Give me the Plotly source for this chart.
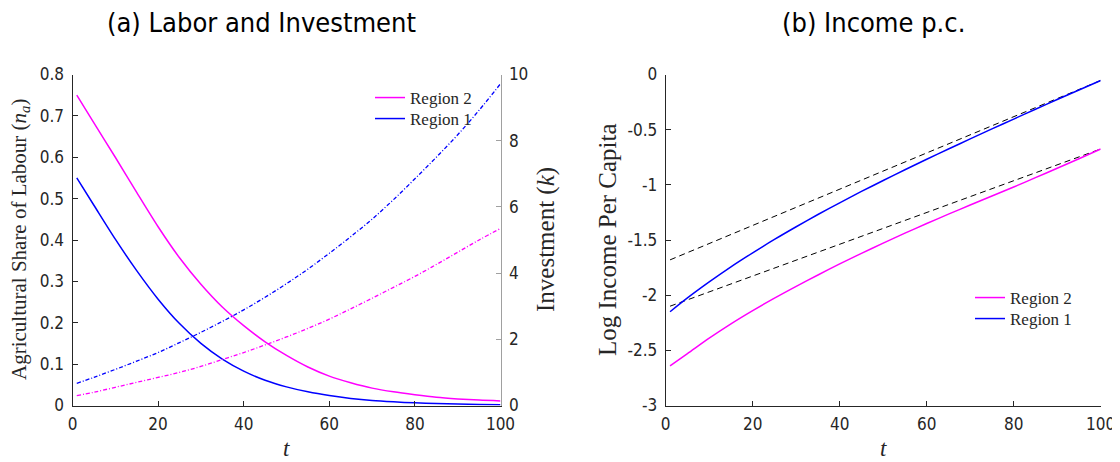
import plotly.graph_objects as go

W, H = 1120, 462
OFF = 8  # page body margin of the html page

# ---------------- data ----------------
t = [1, 5, 10, 15, 20, 25, 30, 35, 40, 45, 50, 55, 60, 65, 70, 75, 80, 85, 90, 95, 100]

# Panel (a): agricultural share of labour n_a
labour_r2 = [0.750, 0.683, 0.600, 0.515, 0.432, 0.357, 0.293, 0.238, 0.193, 0.154, 0.121,
             0.093, 0.071, 0.055, 0.042, 0.033, 0.026, 0.020, 0.016, 0.013, 0.011]
labour_r1 = [0.550, 0.484, 0.402, 0.326, 0.257, 0.198, 0.150, 0.112, 0.083, 0.061, 0.045,
             0.033, 0.024, 0.017, 0.012, 0.0088, 0.0064, 0.0047, 0.0035, 0.0026, 0.002]
# Panel (a): investment k
invest_r1 = [0.67, 0.85, 1.09, 1.34, 1.60, 1.90, 2.21, 2.54, 2.89, 3.27, 3.68,
             4.12, 4.60, 5.10, 5.63, 6.22, 6.85, 7.50, 8.18, 8.92, 9.72]
invest_r2 = [0.30, 0.40, 0.55, 0.70, 0.85, 1.00, 1.18, 1.39, 1.60, 1.83, 2.07,
             2.33, 2.61, 2.92, 3.24, 3.57, 3.90, 4.26, 4.63, 5.00, 5.35]

# Panel (b): log income per capita
income_r1 = [-2.150, -2.025, -1.880, -1.743, -1.616, -1.495, -1.380, -1.269, -1.163, -1.060, -0.961,
             -0.863, -0.768, -0.675, -0.584, -0.493, -0.404, -0.315, -0.227, -0.140, -0.054]
income_r2 = [-2.640, -2.530, -2.390, -2.260, -2.140, -2.027, -1.920, -1.817, -1.717, -1.621, -1.528,
             -1.438, -1.351, -1.266, -1.183, -1.101, -1.020, -0.935, -0.850, -0.764, -0.675]
trend_t = [1, 100]
trend_r1 = [-1.68, -0.054]
trend_r2 = [-2.10, -0.675]

xticks = [0, 20, 40, 60, 80, 100]
yticks_a = [0, 0.1, 0.2, 0.3, 0.4, 0.5, 0.6, 0.7, 0.8]
yticks_a2 = [0, 2, 4, 6, 8, 10]
yticks_b = [-3, -2.5, -2, -1.5, -1, -0.5, 0]
yticklabels_b = ["-3", "-2.5", "-2", "-1.5", "-1", "-0.5", "0"]

# ---------------- style ----------------
MAG = "#ff00ff"
BLU = "#0000ff"
AX = "#262626"
SERIF = "Liberation Serif"
SANS = "DejaVu Sans Condensed, DejaVu Sans"


def px_x(p):
    return (p - OFF) / W


def px_y(p):
    return 1 - (p - OFF) / H


fig = go.Figure()

# Panel (a)
fig.add_trace(go.Scatter(x=t, y=labour_r2, mode="lines", name="Region 2",
                         line=dict(color=MAG, width=1.5, shape="spline", smoothing=0.8),
                         xaxis="x", yaxis="y", legend="legend"))
fig.add_trace(go.Scatter(x=t, y=labour_r1, mode="lines", name="Region 1",
                         line=dict(color=BLU, width=1.5, shape="spline", smoothing=0.8),
                         xaxis="x", yaxis="y", legend="legend3"))
fig.add_trace(go.Scatter(x=t, y=invest_r1, mode="lines", showlegend=False,
                         line=dict(color=BLU, width=1.3, dash="4px,2px,1px,2px", shape="spline"),
                         xaxis="x", yaxis="y2"))
fig.add_trace(go.Scatter(x=t, y=invest_r2, mode="lines", showlegend=False,
                         line=dict(color=MAG, width=1.3, dash="4px,2px,1px,2px", shape="spline"),
                         xaxis="x", yaxis="y2"))

# Panel (b)
fig.add_trace(go.Scatter(x=trend_t, y=trend_r1, mode="lines", showlegend=False,
                         line=dict(color="black", width=1, dash="6px,4px"),
                         xaxis="x2", yaxis="y3"))
fig.add_trace(go.Scatter(x=trend_t, y=trend_r2, mode="lines", showlegend=False,
                         line=dict(color="black", width=1, dash="6px,4px"),
                         xaxis="x2", yaxis="y3"))
fig.add_trace(go.Scatter(x=t, y=income_r2, mode="lines", name="Region 2",
                         line=dict(color=MAG, width=1.5, shape="spline", smoothing=0.8),
                         xaxis="x2", yaxis="y3", legend="legend2"))
fig.add_trace(go.Scatter(x=t, y=income_r1, mode="lines", name="Region 1",
                         line=dict(color=BLU, width=1.5, shape="spline", smoothing=0.8),
                         xaxis="x2", yaxis="y3", legend="legend4"))

ydom = [px_y(405.5), px_y(74.5)]
tickfont = dict(family=SANS, size=17, color=AX)
common_x = dict(range=[0, 100], tickvals=xticks, showline=True, linecolor=AX, linewidth=1,
                ticks="inside", ticklen=5, tickcolor=AX, showgrid=False, zeroline=False,
                tickfont=tickfont, mirror=False, automargin=False, ticklabelstandoff=3)
common_y = dict(showline=True, linecolor=AX, linewidth=1, ticks="inside", ticklen=5,
                tickcolor=AX, showgrid=False, zeroline=False, tickfont=tickfont,
                ticklabelstandoff=4, automargin=False)


def leg(x, y):
    return dict(x=px_x(x), y=px_y(y), xanchor="left", yanchor="top",
                bgcolor="rgba(0,0,0,0)", borderwidth=0, tracegroupgap=0,
                font=dict(family=SERIF, size=17, color=AX), itemwidth=30)


fig.update_layout(
    width=W, height=H,
    margin=dict(l=0, r=0, t=0, b=0, pad=0, autoexpand=False),
    paper_bgcolor="white", plot_bgcolor="white",
    xaxis=dict(domain=[px_x(72.5), px_x(500.5)], anchor="y", **common_x),
    yaxis=dict(domain=ydom, range=[0, 0.8], tickvals=yticks_a, anchor="x", **common_y),
    yaxis2=dict(range=[0, 10], tickvals=yticks_a2, overlaying="y", side="right", anchor="x",
                showline=True, linecolor="#a0a0a0", linewidth=1, ticks="inside", ticklen=5,
                tickcolor="#a0a0a0", showgrid=False, zeroline=False, tickfont=tickfont,
                ticklabelstandoff=4, automargin=False),
    xaxis2=dict(domain=[px_x(665.7), px_x(1100.7)], anchor="y3", **common_x),
    yaxis3=dict(domain=ydom, range=[-3, 0], tickvals=yticks_b, ticktext=yticklabels_b,
                anchor="x2", **common_y),
    legend=leg(370, 80),
    legend3=leg(370, 101),
    legend2=leg(970, 280),
    legend4=leg(970, 301),
    showlegend=True,
)

ann = []
ann.append(dict(text="(a) Labor and Investment", x=px_x(261), y=px_y(23), xref="paper", yref="paper",
                showarrow=False, font=dict(family=SANS, size=27, color="black"),
                xanchor="center", yanchor="middle"))
ann.append(dict(text="(b) Income p.c.", x=px_x(873), y=px_y(23), xref="paper", yref="paper",
                showarrow=False, font=dict(family=SANS, size=27, color="black"),
                xanchor="center", yanchor="middle"))
ann.append(dict(text="<i>t</i>", x=px_x(286), y=px_y(448), xref="paper", yref="paper",
                showarrow=False, font=dict(family=SERIF, size=23, color=AX),
                xanchor="center", yanchor="middle"))
ann.append(dict(text="<i>t</i>", x=px_x(883), y=px_y(448), xref="paper", yref="paper",
                showarrow=False, font=dict(family=SERIF, size=23, color=AX),
                xanchor="center", yanchor="middle"))
ann.append(dict(text="Agricultural Share of Labour (<i>n</i><sub><i>a</i></sub>)",
                x=px_x(20), y=px_y(240), xref="paper", yref="paper", textangle=-90,
                showarrow=False, font=dict(family=SERIF, size=21, color=AX),
                xanchor="center", yanchor="middle"))
ann.append(dict(text="Investment (<i>k</i>)",
                x=px_x(546), y=px_y(240), xref="paper", yref="paper", textangle=-90,
                showarrow=False, font=dict(family=SERIF, size=25, color=AX),
                xanchor="center", yanchor="middle"))
ann.append(dict(text="Log Income Per Capita",
                x=px_x(607), y=px_y(240), xref="paper", yref="paper", textangle=-90,
                showarrow=False, font=dict(family=SERIF, size=25, color=AX),
                xanchor="center", yanchor="middle"))
fig.update_layout(annotations=ann)

fig.write_html("out.html")
